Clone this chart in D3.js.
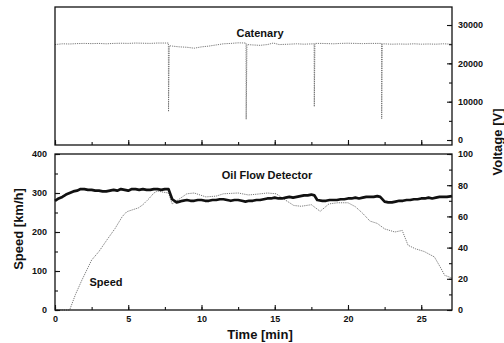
<!DOCTYPE html>
<html><head><meta charset="utf-8">
<script src="https://cdn.jsdelivr.net/npm/d3@7"></script>
<style>
body{margin:0;background:#fff;}
svg{display:block;font-family:"Liberation Sans",Arial,sans-serif;font-weight:bold;}
</style></head><body>
<svg id="c" width="504" height="343"></svg>
<script>
// ---------- data ----------
const timeDomain = [0, 27.1];
const timeTicks = [0, 5, 10, 15, 20, 25];

// Catenary voltage [V] (top panel)
const catTime = [0, 0.5, 1, 1.5, 2, 2.5, 3, 3.5, 4, 4.5, 5, 5.5, 6, 6.5, 7, 7.5, 7.74, 7.75, 7.8, 8.0, 8.5, 9.0, 9.5, 10.0, 10.5, 11.0, 11.5, 12.0, 12.5, 13.04, 13.05, 13.1, 13.5, 14.0, 14.5, 14.9, 15.3, 16.0, 16.5, 17.0, 17.69, 17.7, 17.74, 18.2, 19.0, 19.5, 20.0, 20.5, 21.0, 21.5, 22.29, 22.3, 22.34, 23.0, 23.5, 24.0, 24.5, 25.0, 25.5, 26.0, 26.5, 27.1];
const catVolt = [24900, 25100, 25050, 25150, 25200, 25150, 25200, 25100, 25200, 25250, 25200, 25300, 25250, 25200, 25300, 25300, 25300, 7400, 24600, 24500, 24300, 24200, 23950, 24300, 24500, 24800, 25100, 25200, 25350, 25300, 5400, 24900, 24800, 24700, 24900, 25300, 24900, 25000, 25100, 25000, 25100, 8700, 25200, 25200, 25100, 25200, 25250, 25200, 25150, 25200, 25200, 5500, 25100, 25000, 25050, 25000, 25100, 25000, 25050, 25000, 25100, 25000];
const voltTicks = [0, 10000, 20000, 30000];

// Speed [km/h] (bottom panel, left axis)
const speedTime = [0, 1.0, 1.4, 1.84, 2.5, 3.0, 3.55, 4.1, 4.6, 4.9, 5.3, 5.7, 6.0, 6.4, 6.75, 7.0, 7.4, 7.75, 8.0, 8.5, 9.0, 9.5, 10.3, 11.0, 11.5, 12.5, 13.2, 13.8, 14.5, 15.1, 15.6, 16.3, 16.8, 17.5, 18.1, 18.7, 19.3, 20.0, 20.5, 21.0, 21.5, 22.0, 22.5, 23.2, 23.7, 24.1, 24.6, 25.2, 25.9, 26.3, 26.6, 27.1];
const speedVal  = [0, 0, 40, 77, 128, 150, 180, 209, 240, 252, 257, 262, 270, 285, 300, 305, 302, 300, 272, 285, 298, 300, 290, 292, 298, 300, 295, 297, 300, 298, 285, 268, 266, 270, 253, 272, 275, 275, 265, 248, 228, 222, 208, 200, 204, 166, 157, 150, 136, 110, 89, 82];
const speedTicks = [0, 100, 200, 300, 400];

// Oil flow detector (bottom panel, right axis 0-100)
const oilTime = [0, 0.25, 0.5, 0.75, 1, 1.25, 1.5, 1.75, 2, 2.25, 2.5, 2.75, 3, 3.25, 3.5, 3.75, 4, 4.25, 4.5, 4.75, 5, 5.25, 5.5, 5.75, 6, 6.25, 6.5, 6.75, 7, 7.25, 7.5, 7.75, 8.0, 8.3, 8.5, 8.7, 9, 9.25, 9.5, 9.75, 10, 10.25, 10.5, 10.75, 11, 11.25, 11.5, 11.75, 12, 12.25, 12.5, 12.75, 13, 13.25, 13.5, 13.75, 14, 14.25, 14.5, 14.75, 15, 15.25, 15.5, 15.75, 16, 16.25, 16.5, 16.75, 17, 17.25, 17.5, 17.7, 17.9, 18.25, 18.5, 18.75, 19, 19.25, 19.5, 19.75, 20, 20.25, 20.5, 20.75, 21, 21.25, 21.5, 21.75, 22, 22.2, 22.5, 22.75, 23, 23.25, 23.5, 23.75, 24, 24.25, 24.5, 24.75, 25, 25.25, 25.5, 25.75, 26, 26.25, 26.5, 26.75, 27.1];
const oilVal  = [70, 71.5, 72.5, 74, 75, 76, 76.5, 77.5, 77.5, 77, 77, 76.5, 76.5, 76, 76, 76.5, 77, 76.5, 77.5, 77, 76.5, 77.5, 77.5, 77, 77.5, 77, 77, 77.5, 77.5, 77, 77.5, 77.5, 71, 69, 69.5, 70, 70.5, 70, 70, 70.5, 70.5, 70, 70, 70.5, 70.5, 71, 71, 70.5, 70, 70.5, 70.5, 70, 69.5, 70, 70, 70.5, 70.5, 71, 71.5, 71.5, 72, 71.5, 71.5, 72, 72.5, 72, 72.5, 73, 73.5, 73.5, 74, 73.5, 70.5, 70, 70, 70.5, 70.5, 70.5, 71, 71, 71.5, 71.5, 72, 71.5, 72, 72.5, 72.5, 72.5, 73, 72.5, 69.5, 69, 69, 69.5, 70, 70, 70.5, 70.5, 71, 71, 71.5, 71.5, 72, 71.5, 72, 72.5, 72.5, 72.5, 73];
const oilTicks = [0, 20, 40, 60, 80, 100];

// ---------- layout ----------
const svg = d3.select("#c");
const L = 55, R = 452;
const top1 = 7, bot1 = 145, top2 = 154, bot2 = 310;

const x = d3.scaleLinear().domain(timeDomain).range([L, R]);
const yV = d3.scaleLinear().domain([-1300, 34700]).range([bot1, top1]);
const yS = d3.scaleLinear().domain([0, 400]).range([bot2, top2]);
const yO = d3.scaleLinear().domain([0, 100]).range([bot2, top2]);

const gray = "#6a6a6a";

// ---- top panel ----
svg.append("path")
  .datum(d3.zip(catTime, catVolt))
  .attr("fill", "none").attr("stroke", gray).attr("stroke-width", 0.9)
  .attr("stroke-dasharray", "1.2,1")
  .attr("d", d3.line().x(d => x(d[0])).y(d => yV(d[1])));

// ---- bottom panel ----
svg.append("path")
  .datum(d3.zip(speedTime, speedVal))
  .attr("fill", "none").attr("stroke", gray).attr("stroke-width", 0.9)
  .attr("stroke-dasharray", "1.2,1")
  .attr("d", d3.line().x(d => x(d[0])).y(d => yS(d[1])));

svg.append("path")
  .datum(d3.zip(oilTime, oilVal))
  .attr("fill", "none").attr("stroke", "#111").attr("stroke-width", 2.7)
  .attr("stroke-linejoin", "round")
  .attr("d", d3.line().x(d => x(d[0])).y(d => yO(d[1])));

// ---- frames ----
[[top1, bot1], [top2, bot2]].forEach(([t, b]) => {
  svg.append("rect").attr("x", L).attr("y", t).attr("width", R - L).attr("height", b - t)
    .attr("fill", "none").attr("stroke", "#111").attr("stroke-width", 1.3);
});

// ---- axes (ticks inward) ----
function styleAxis(g) {
  g.select(".domain").remove();
  g.selectAll("line").attr("stroke", "#111").attr("stroke-width", 1.1);
  g.selectAll("text").attr("font-size", 9).attr("font-weight", "bold").attr("fill", "#111");
}
const minorX = d3.range(0, 27.1, 2.5);

// top panel bottom ticks
svg.append("g").attr("transform", `translate(0,${bot1})`)
  .call(d3.axisTop(x).tickValues(minorX).tickSize(3).tickFormat("")).call(styleAxis);
svg.append("g").attr("transform", `translate(0,${bot1})`)
  .call(d3.axisTop(x).tickValues(timeTicks).tickSize(5).tickFormat("")).call(styleAxis);

// top panel right axis
svg.append("g").attr("transform", `translate(${R},0)`)
  .call(d3.axisLeft(yV).tickValues(d3.range(0, 34001, 5000)).tickSize(3).tickFormat("")).call(styleAxis);
svg.append("g").attr("transform", `translate(${R},0)`)
  .call(d3.axisRight(yV).tickValues(voltTicks).tickSize(0).tickPadding(6).tickFormat(d3.format("d"))).call(styleAxis);
svg.append("g").attr("transform", `translate(${R},0)`)
  .call(d3.axisLeft(yV).tickValues(voltTicks).tickSize(5).tickFormat("")).call(styleAxis);

// bottom panel x axis
svg.append("g").attr("transform", `translate(0,${bot2})`)
  .call(d3.axisTop(x).tickValues(minorX).tickSize(3).tickFormat("")).call(styleAxis);
svg.append("g").attr("transform", `translate(0,${bot2})`)
  .call(d3.axisBottom(x).tickValues(timeTicks).tickSize(0).tickPadding(6)).call(styleAxis);
svg.append("g").attr("transform", `translate(0,${bot2})`)
  .call(d3.axisTop(x).tickValues(timeTicks).tickSize(5).tickFormat("")).call(styleAxis);

// bottom left axis
svg.append("g").attr("transform", `translate(${L},0)`)
  .call(d3.axisRight(yS).tickValues(d3.range(0, 401, 50)).tickSize(3).tickFormat("")).call(styleAxis);
svg.append("g").attr("transform", `translate(${L},0)`)
  .call(d3.axisLeft(yS).tickValues(speedTicks).tickSize(0).tickPadding(8)).call(styleAxis);
svg.append("g").attr("transform", `translate(${L},0)`)
  .call(d3.axisRight(yS).tickValues(speedTicks).tickSize(5).tickFormat("")).call(styleAxis);

// bottom right axis
svg.append("g").attr("transform", `translate(${R},0)`)
  .call(d3.axisLeft(yO).tickValues(d3.range(0, 101, 10)).tickSize(3).tickFormat("")).call(styleAxis);
svg.append("g").attr("transform", `translate(${R},0)`)
  .call(d3.axisRight(yO).tickValues(oilTicks).tickSize(0).tickPadding(6)).call(styleAxis);
svg.append("g").attr("transform", `translate(${R},0)`)
  .call(d3.axisLeft(yO).tickValues(oilTicks).tickSize(5).tickFormat("")).call(styleAxis);

// ---- labels ----
function label(txt, xx, yy, size, rot) {
  const t = svg.append("text").attr("x", xx).attr("y", yy).attr("font-size", size)
    .attr("text-anchor", "middle").attr("fill", "#111").text(txt);
  if (rot) t.attr("transform", `rotate(${rot},${xx},${yy})`);
  return t;
}
label("Catenary", 260, 37, 11);
label("Oil Flow Detector", 267, 179, 11);
label("Speed", 106, 286, 11);
label("Time [min]", 260, 339, 13);
label("Speed [km/h]", 23, 229, 13, -90);
label("Voltage [V]", 502, 142, 13, -90);
</script>
</body></html>
